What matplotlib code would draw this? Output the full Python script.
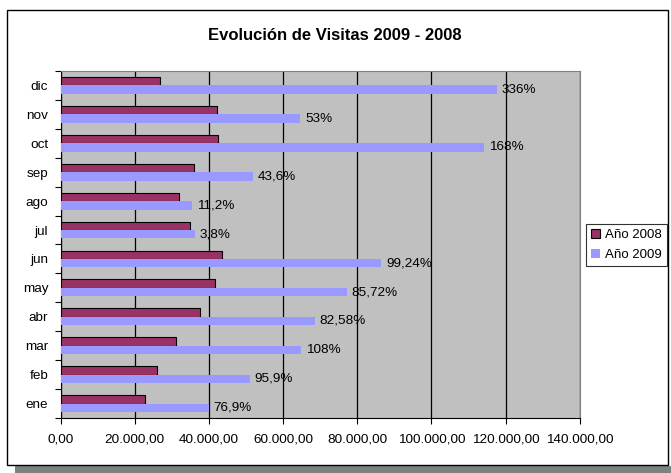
import matplotlib
matplotlib.use("Agg")
import matplotlib.pyplot as plt
from matplotlib.patches import Rectangle
from matplotlib.ticker import FuncFormatter, FixedLocator

plt.rcParams['font.family'] = ['Liberation Sans', 'DejaVu Sans']

meses = ['ene', 'feb', 'mar', 'abr', 'may', 'jun', 'jul', 'ago', 'sep', 'oct', 'nov', 'dic']
visitas_2008 = [22660, 26060, 31020, 37580, 41540, 43430, 34880, 31910, 36040, 42520, 42160, 26870]
visitas_2009 = [39900, 51060, 64800, 68600, 77200, 86450, 36100, 35450, 51770, 114100, 64650, 117600]
crecimiento = ['76,9%', '95,9%', '108%', '82,58%', '85,72%', '99,24%', '3,8%', '11,2%', '43,6%', '168%', '53%', '336%']

W, H = 671, 473
fig = plt.figure(figsize=(W / 100, H / 100), dpi=100)

# marco del grafico con sombra
fig.patches.append(Rectangle((15 / W, 0), 1, 7 / H, transform=fig.transFigure,
                             facecolor='#808080', edgecolor='none', zorder=-2))
fig.patches.append(Rectangle((7 / W, 8 / H), 661 / W, 455 / H, transform=fig.transFigure,
                             facecolor='white', edgecolor='black', linewidth=1, zorder=-1))

ax = fig.add_axes([60.7 / W, (H - 418) / H, 519 / W, 347 / H])
ax.set_zorder(2)
ax.set_facecolor('#C0C0C0')

y = list(range(len(meses)))
h = 0.29
ax.barh([i + h / 2 for i in y], visitas_2008, height=h, color='#993366',
        edgecolor='black', linewidth=0.8, label='Año 2008', zorder=3)
ax.barh([i - h / 2 for i in y], visitas_2009, height=h, color='#9999FF',
        edgecolor='none', label='Año 2009', zorder=3)

for i, v in enumerate(visitas_2009):
    ax.annotate(crecimiento[i], (v, i - h / 2), xytext=(3.5, 0), textcoords='offset points',
                va='center', ha='left', fontsize=9.7, zorder=4)

ax.set_xlim(0, 140000)
ax.set_ylim(-0.5, len(meses) - 0.5)
ax.set_xticks(range(0, 140001, 20000))
ax.xaxis.set_major_formatter(FuncFormatter(
    lambda x, p: f"{x:,.2f}".replace(',', 'X').replace('.', ',').replace('X', '.')))
ax.grid(axis='x', color='black', linewidth=0.9, zorder=1)

ax.yaxis.set_major_locator(FixedLocator([i - 0.5 for i in range(len(meses) + 1)]))
ax.yaxis.set_major_formatter(FuncFormatter(lambda x, p: ''))
ax.yaxis.set_minor_locator(FixedLocator(y))
ax.set_yticklabels(meses, minor=True)
ax.tick_params(axis='y', which='minor', length=0, labelsize=9.7, pad=9)
ax.tick_params(axis='y', which='major', length=4, width=0.8)
ax.tick_params(axis='x', length=4, width=0.8, labelsize=9.7, pad=7)

for s in ['top', 'right']:
    ax.spines[s].set_color('#808080')
for s in ['left', 'bottom']:
    ax.spines[s].set_color('black')

fig.text(335 / W, 1 - 36 / H, 'Evolución de Visitas 2009 - 2008', ha='center', va='center',
         fontsize=12, fontweight='bold')

leg = fig.legend(loc='center', bbox_to_anchor=(626.5 / W, 1 - 245 / H), fontsize=9.5,
                 frameon=True, fancybox=False, edgecolor='black', handlelength=0.7,
                 handleheight=0.7, handletextpad=0.4, borderpad=0.4, labelspacing=0.55,
                 borderaxespad=0)
leg.get_frame().set_linewidth(0.8)

fig.savefig('out.png', dpi=100)
